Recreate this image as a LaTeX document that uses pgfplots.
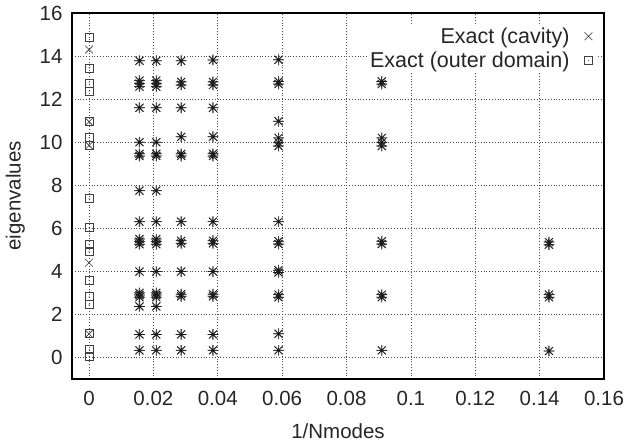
\documentclass[border=0pt]{standalone}
\usepackage{pgfplots}
\pgfplotsset{compat=1.18}
\usepackage{pgfplotstable}
\usepackage{fontspec}
\setmainfont{Liberation Sans}

\pgfdeclareplotmark{gast}{%
 \pgfpathmoveto{\pgfqpoint{-\pgfplotmarksize}{0pt}}\pgfpathlineto{\pgfqpoint{\pgfplotmarksize}{0pt}}%
 \pgfpathmoveto{\pgfqpoint{0pt}{-\pgfplotmarksize}}\pgfpathlineto{\pgfqpoint{0pt}{\pgfplotmarksize}}%
 \pgfpathmoveto{\pgfqpoint{-.75\pgfplotmarksize}{-.75\pgfplotmarksize}}\pgfpathlineto{\pgfqpoint{.75\pgfplotmarksize}{.75\pgfplotmarksize}}%
 \pgfpathmoveto{\pgfqpoint{-.75\pgfplotmarksize}{.75\pgfplotmarksize}}\pgfpathlineto{\pgfqpoint{.75\pgfplotmarksize}{-.75\pgfplotmarksize}}%
 \pgfusepathqstroke}
\pgfdeclareplotmark{sqdot}{%
 \pgfpathrectangle{\pgfqpoint{-\pgfplotmarksize}{-\pgfplotmarksize}}{\pgfqpoint{2\pgfplotmarksize}{2\pgfplotmarksize}}\pgfusepathqstroke
 \pgfpathcircle{\pgfpointorigin}{0.55bp}\pgfusepathqfill}

\pgfplotsset{mylegimg/.style={legend image code/.code={\path (0bp,0bp) (24bp,0bp); \draw[##1] plot coordinates {(17bp,0bp)};}}}

\pgfplotstableread{
x y
0 14.3
0 10.95
0 9.85
0 4.4
0 1.1
}\cavity

\pgfplotstableread{
x y
0 14.85
0 13.45
0 12.75
0 12.37
0 10.95
0 10.22
0 9.85
0 7.38
0 6.03
0 5.24
0 4.93
0 3.59
0 2.82
0 2.47
0 1.1
0 0.37
0 0.06
}\outer

% numerical eigenvalues, x = 1/Nmodes
\pgfplotstableread{
x y
0.015625 13.78
0.015625 12.58
0.015625 12.72
0.015625 12.86
0.015625 11.6
0.015625 10.0
0.015625 9.36
0.015625 9.46
0.015625 7.75
0.015625 6.31
0.015625 5.26
0.015625 5.38
0.015625 5.5
0.015625 3.99
0.015625 2.8
0.015625 2.9
0.015625 3.0
0.015625 2.37
0.015625 1.07
0.015625 0.33
0.020833 13.78
0.020833 12.58
0.020833 12.72
0.020833 12.86
0.020833 11.6
0.020833 10.0
0.020833 9.36
0.020833 9.46
0.020833 7.75
0.020833 6.31
0.020833 5.26
0.020833 5.38
0.020833 5.5
0.020833 3.99
0.020833 2.8
0.020833 2.9
0.020833 3.0
0.020833 2.37
0.020833 1.07
0.020833 0.33
0.028571 13.78
0.028571 12.66
0.028571 12.8
0.028571 11.6
0.028571 10.25
0.028571 9.36
0.028571 9.46
0.028571 6.31
0.028571 5.3
0.028571 5.42
0.028571 3.99
0.028571 2.84
0.028571 2.94
0.028571 1.07
0.028571 0.33
0.038462 13.82
0.038462 12.66
0.038462 12.8
0.038462 11.6
0.038462 10.25
0.038462 9.36
0.038462 9.46
0.038462 6.31
0.038462 5.3
0.038462 5.42
0.038462 3.99
0.038462 2.84
0.038462 2.94
0.038462 1.07
0.038462 0.33
0.058824 13.83
0.058824 12.7
0.058824 12.82
0.058824 10.97
0.058824 10.2
0.058824 9.98
0.058824 9.82
0.058824 6.31
0.058824 5.27
0.058824 5.4
0.058824 3.95
0.058824 4.05
0.058824 2.8
0.058824 2.92
0.058824 1.1
0.058824 0.33
0.090909 12.7
0.090909 12.82
0.090909 10.2
0.090909 9.98
0.090909 9.82
0.090909 5.27
0.090909 5.4
0.090909 2.8
0.090909 2.92
0.090909 0.33
0.142857 5.24
0.142857 5.36
0.142857 2.8
0.142857 2.92
0.142857 0.3
}\numer

\begin{document}
\begin{tikzpicture}
\useasboundingbox (-72bp,-66bp) rectangle (554bp,379bp);
\begin{axis}[
  at={(0,0)}, anchor=south west,
  scale only axis, width=532bp, height=366bp,
  xmin=-0.0053, xmax=0.16, ymin=-1, ymax=16,
  xtick={0,0.02,...,0.16}, ytick={0,2,...,16},
  scaled x ticks=false,
  xticklabel style={/pgf/number format/fixed, /pgf/number format/precision=2, yshift=-9bp},
  yticklabel style={xshift=-6bp},
  /pgf/number format/assume math mode=true,
  tick label style={font=\fontsize{20.5bp}{24bp}\selectfont, black!85},
  label style={font=\fontsize{20.5bp}{24bp}\selectfont, black!85},
  xlabel={1/Nmodes}, ylabel={eigenvalues},
  xlabel style={yshift=-11bp}, ylabel style={yshift=8bp},
  major tick length=0pt,
  axis line style={black, line width=1.1bp},
  grid=major,
  major grid style={black!70, line width=0.6bp, dash pattern=on 0.8bp off 2bp},
  legend style={at={(rel axis cs:1,1)}, anchor=north east, yshift=-11bp, xshift=-6bp,
    draw=none, fill=white, font=\fontsize{21.5bp}{25bp}\selectfont,
    text=black!85, row sep=4bp, inner sep=2bp,
    nodes={inner sep=1.5bp}},
  legend cell align=right,
  legend plot pos=right,
]
\addplot[only marks, mark=gast, mark size=5.3bp, black!60, line width=0.8bp, forget plot,
  mark options={xshift=0.4bp}] table {\numer};
\addplot[only marks, mark=gast, mark size=5.3bp, black!90, line width=0.7bp, forget plot] table {\numer};
\addplot[only marks, mark=x, mark size=5.5bp, black!80, line width=0.6bp, mylegimg] table {\cavity};
\addplot[only marks, mark=sqdot, mark size=4bp, black!75, line width=0.7bp, mylegimg] table {\outer};
\legend{Exact (cavity), Exact (outer domain)}
\end{axis}
\end{tikzpicture}
\end{document}
